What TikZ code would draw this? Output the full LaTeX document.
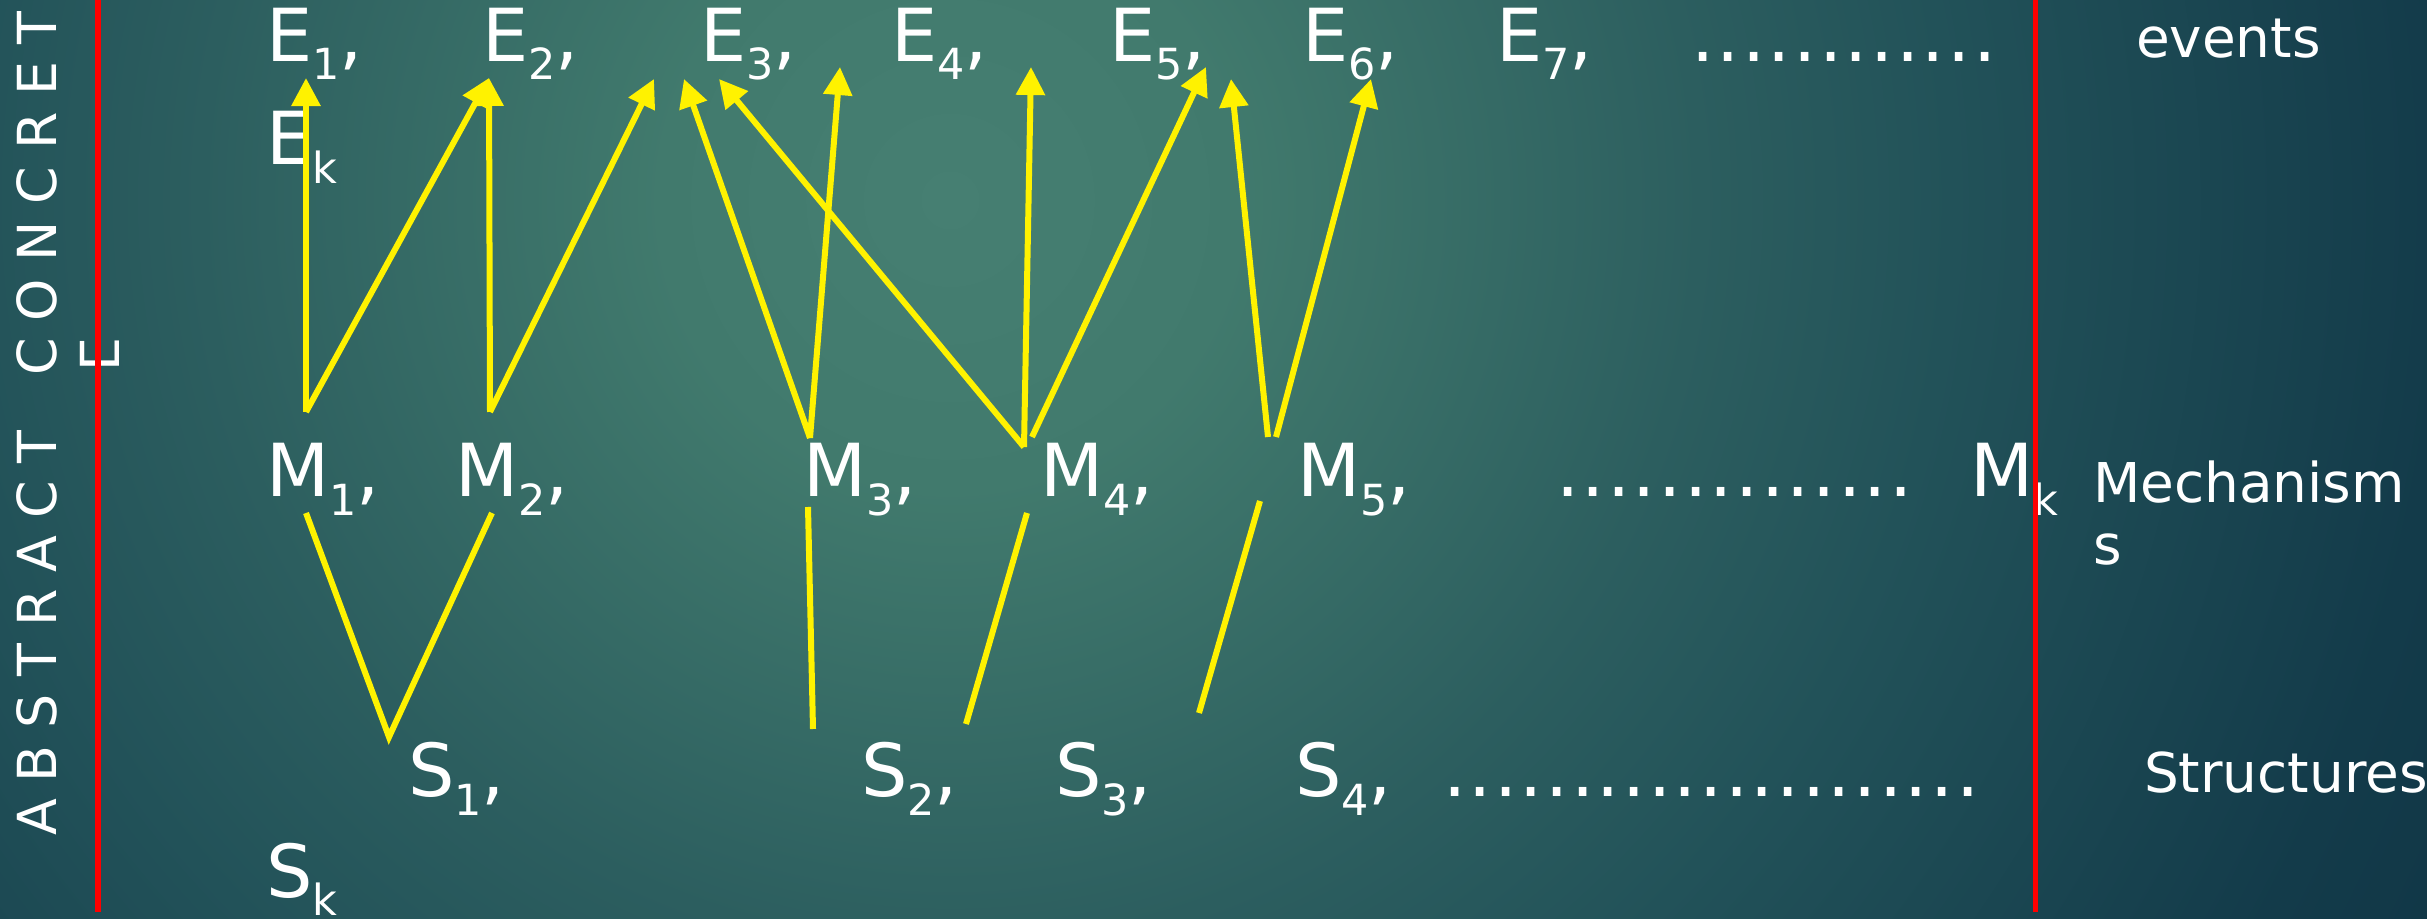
\documentclass[tikz,border=0pt]{standalone}
\usepackage{fontspec}
\setmainfont{DejaVu Sans}
\usetikzlibrary{arrows.meta}
\definecolor{bgA}{HTML}{467F72}
\definecolor{bgB}{HTML}{417A6D}
\definecolor{bgC}{HTML}{2C5E5F}
\definecolor{bgD}{HTML}{225259}
\definecolor{bgE}{HTML}{133B4A}
\definecolor{bgF}{HTML}{0F3444}
\pgfdeclareradialshading{bgshade}{\pgfpoint{0bp}{0bp}}{color(0bp)=(bgA); color(4bp)=(bgB); color(10.4bp)=(bgC); color(13.9bp)=(bgD); color(20.8bp)=(bgE); color(25bp)=(bgF); color(50bp)=(bgF)}
\newcommand\bigf{\fontsize{20.8}{25}\selectfont}
\newcommand\subf{\fontsize{12.2}{14}\selectfont}
\newcommand\sidef{\fontsize{15.6}{17.9}\selectfont}
\newcommand\vertf{\fontsize{15.3}{18}\selectfont}
\newcommand\lbl[2]{{\bigf #1}\raisebox{-0.18cm}{\subf #2}}
\newcommand\lblc[2]{{\bigf #1}\raisebox{-0.18cm}{\subf #2}{\bigf ,}}
\newcommand\dotrow[1]{\foreach \i in {1,...,#1}{.\kern0.024cm}}
\begin{document}
\begin{tikzpicture}[x=0.01cm, y=-0.01cm,
  every node/.style={inner sep=0, outer sep=0, text=white, anchor=base west},
  side/.style={font=\sidef},
  arr/.style={draw=yellow, line width=0.06cm, -{Triangle[length=0.28cm,width=0.28cm]}},
  link/.style={draw=yellow, line width=0.06cm},
  redline/.style={draw=red, line width=0.05cm}]
\useasboundingbox (0,0) rectangle (2427,919);
\begin{scope}
  \clip (0,0) rectangle (2427,919);
  \shade[shading=bgshade] (950,200) circle (18cm);
\end{scope}

% vertical label
\node[rotate=90, font=\vertf] (abs) at (56,836) {A B S T R A C T\hspace{0.55cm}C O N C R E T};
\node[rotate=90, font=\vertf] (absE) at (120,372) {E};

% events row
\node (E1) at (266,62) {\lblc{E}{1}};
\node (E2) at (482,62) {\lblc{E}{2}};
\node (E3) at (700,62) {\lblc{E}{3}};
\node (E4) at (891,62) {\lblc{E}{4}};
\node (E5) at (1109,62) {\lblc{E}{5}};
\node (E6) at (1302,62) {\lblc{E}{6}};
\node (E7) at (1496,62) {\lblc{E}{7}};
\node (Edots) at (1691,62) {\bigf\dotrow{12}};
\node (Ek) at (266,165) {\lbl{E}{k}};
\node[side] (events) at (2136,58) {events};

% mechanisms row
\node (M1) at (266,497) {\lblc{M}{1}};
\node (M2) at (455,497) {\lblc{M}{2}};
\node (M3) at (803,497) {\lblc{M}{3}};
\node (M4) at (1040,497) {\lblc{M}{4}};
\node (M5) at (1297,497) {\lblc{M}{5}};
\node (Mdots) at (1556,497) {\bigf\dotrow{14}};
\node (Mk) at (1970,497) {\lbl{M}{k}};
\node[side, align=left] (mech) at (2093,565) {Mechanism\\s};

% structures row
\node (S1) at (408,797) {\lblc{S}{1}};
\node (S2) at (861,797) {\lblc{S}{2}};
\node (S3) at (1055,797) {\lblc{S}{3}};
\node (S4) at (1295,797) {\lblc{S}{4}};
\node (Sdots) at (1443,797) {\bigf\dotrow{21}};
\node (Sk) at (266,897) {\lbl{S}{k}};
\node[side] (struct) at (2144,792) {Structures};

% connector end points
\coordinate (m1u) at (306,412);
\coordinate (m2u) at (490,412);
\coordinate (m3u) at (810,438);
\coordinate (m4u) at (1024,447);
\coordinate (m4v) at (1032,437);
\coordinate (m5u) at (1268,437);
\coordinate (m5v) at (1276,437);
\coordinate (e1t) at (306,78);
\coordinate (e2t) at (489,78);
\coordinate (e3a) at (654,79);
\coordinate (e3b) at (684,79);
\coordinate (e3c) at (719,79);
\coordinate (e4a) at (840,67);
\coordinate (e4b) at (1031,67);
\coordinate (e5a) at (1206,67);
\coordinate (e6a) at (1231,79);
\coordinate (e6b) at (1371,79);

\coordinate (m1d) at (306,513);
\coordinate (m2d) at (492,513);
\coordinate (m3d) at (808,507);
\coordinate (m4d) at (1027,513);
\coordinate (m5d) at (1260,501);
\coordinate (s1t) at (389,737);
\coordinate (s2a) at (813,729);
\coordinate (s2b) at (966,724);
\coordinate (s3t) at (1199,713);

% mechanism -> event arrows
\draw[arr] (m1u) -- (e1t);
\draw[arr] (m1u) -- (e2t);
\draw[arr] (m2u) -- (e2t);
\draw[arr] (m2u) -- (e3a);
\draw[arr] (m3u) -- (e3b);
\draw[arr] (m4u) -- (e3c);
\draw[arr] (m3u) -- (e4a);
\draw[arr] (m4u) -- (e4b);
\draw[arr] (m4v) -- (e5a);
\draw[arr] (m5u) -- (e6a);
\draw[arr] (m5v) -- (e6b);

% mechanism -- structure links
\draw[link] (m1d) -- (s1t) -- (m2d);
\draw[link] (m3d) -- (s2a);
\draw[link] (m4d) -- (s2b);
\draw[link] (m5d) -- (s3t);

% red separators
\coordinate (rl1t) at (98,0);
\coordinate (rl1b) at (98,912);
\coordinate (rl2t) at (2035,0);
\coordinate (rl2b) at (2035,912);
\draw[redline] (rl1t) -- (rl1b);
\draw[redline] (rl2t) -- (rl2b);
\end{tikzpicture}
\end{document}
